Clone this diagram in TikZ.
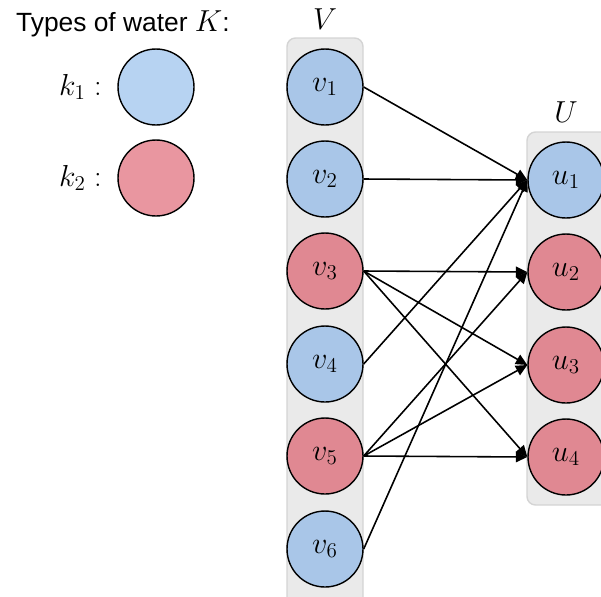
\documentclass[tikz,border=0pt]{standalone}
\usepackage{fontspec}
\usepackage{amsmath}
\newfontfamily\legendfont{Liberation Sans}
\usetikzlibrary{arrows.meta}

\definecolor{nodeblue}{RGB}{169,198,232}
\definecolor{nodepink}{RGB}{224,136,146}
\definecolor{legendblue}{RGB}{183,211,242}
\definecolor{legendpink}{RGB}{233,150,160}
\definecolor{boxfill}{RGB}{234,234,234}
\definecolor{boxline}{RGB}{212,212,212}

\begin{document}
\begin{tikzpicture}[x=0.02cm, y=-0.02cm, >={Triangle[length=6.5pt, width=6pt]},
    mathfont/.style={font=\fontsize{18.5}{22}\selectfont},
    vertex/.style={circle, draw, line width=0.8pt, minimum size=1.52cm, inner sep=0pt, mathfont},
    bluevertex/.style={vertex, fill=nodeblue},
    pinkvertex/.style={vertex, fill=nodepink},
    groupbox/.style={draw=boxline, fill=boxfill, line width=0.8pt, rounded corners=0.17cm},
    flow/.style={->, line width=0.9pt}]

    \useasboundingbox (0,0) rectangle (601,596);

    % --- legend ---
    \node[anchor=base west, font=\legendfont\fontsize{15}{18}\selectfont] (title) at (10,31)
        {Types of water {\fontsize{18}{20}\selectfont$K$}:};
    \node[vertex, fill=legendblue] (k1) at (156,87) {};
    \node[vertex, fill=legendpink] (k2) at (156,178) {};
    \node[mathfont, anchor=east] (k1label) at (108,87) {$k_1:$};
    \node[mathfont, anchor=east] (k2label) at (108,178) {$k_2:$};

    % --- group boxes ---
    \draw[groupbox] (287,38) rectangle (363,608);
    \draw[groupbox] (527,132) rectangle (610,505);
    \node[mathfont] (Vlabel) at (325,19) {$V$};
    \node[mathfont] (Ulabel) at (566,112) {$U$};

    % --- set V ---
    \node[bluevertex] (v1) at (325,87)  {$v_1$};
    \node[bluevertex] (v2) at (325,179) {$v_2$};
    \node[pinkvertex] (v3) at (325,271) {$v_3$};
    \node[bluevertex] (v4) at (325,364) {$v_4$};
    \node[pinkvertex] (v5) at (325,456) {$v_5$};
    \node[bluevertex] (v6) at (325,549) {$v_6$};

    % --- set U ---
    \node[bluevertex] (u1) at (566,180) {$u_1$};
    \node[pinkvertex] (u2) at (566,272) {$u_2$};
    \node[pinkvertex] (u3) at (566,365) {$u_3$};
    \node[pinkvertex] (u4) at (566,457) {$u_4$};

    % --- edges ---
    \draw[flow] (v1.east) -- (u1.west);
    \draw[flow] (v2.east) -- (u1.west);
    \draw[flow] (v4.east) -- (u1.west);
    \draw[flow] (v6.east) -- (u1.west);
    \draw[flow] (v3.east) -- (u2.west);
    \draw[flow] (v3.east) -- (u3.west);
    \draw[flow] (v3.east) -- (u4.west);
    \draw[flow] (v5.east) -- (u2.west);
    \draw[flow] (v5.east) -- (u3.west);
    \draw[flow] (v5.east) -- (u4.west);

\end{tikzpicture}
\end{document}
